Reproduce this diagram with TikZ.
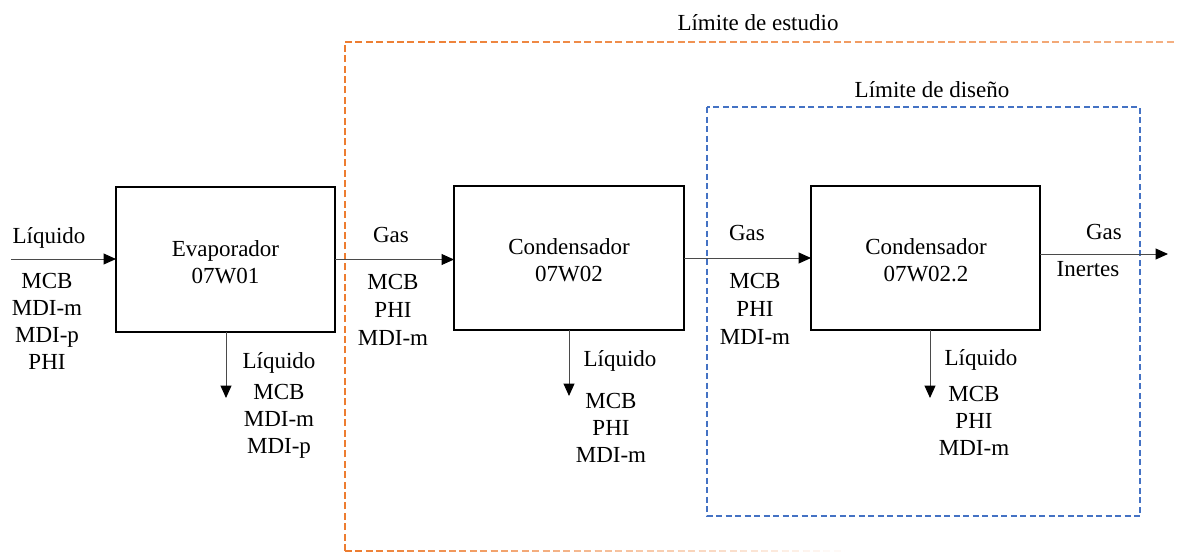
\documentclass[tikz,border=0pt]{standalone}
\usepackage{fontspec}
\setmainfont{Liberation Serif}
\usetikzlibrary{arrows.meta}
\definecolor{orng}{HTML}{ED7D31}
\definecolor{blu}{HTML}{4472C4}
\definecolor{conn}{HTML}{4A4A4A}
\begin{document}
\begin{tikzpicture}[x=1pt,y=-1pt,
  every node/.style={font=\fontsize{23}{27}\selectfont, inner sep=0pt, outer sep=0pt},
  txt/.style={anchor=north, align=center},
  unitbox/.style={draw=black, line width=1.6pt, minimum width=#1, minimum height=144pt},
  flow/.style={draw=conn, line width=1pt, -{Triangle[length=12.5pt,width=11pt,color=black]}},
  orngdash/.style={draw=orng, line width=2pt, dash pattern=on 7pt off 3.4pt},
  bludash/.style={draw=blu, line width=1.5pt, dash pattern=on 6pt off 3.5pt}]
\useasboundingbox (0,0) rectangle (1177,552);

% boundaries
\draw[orngdash] (345,551) -- (345,42);
\foreach \i in {0,...,39}{
  \pgfmathsetmacro\xa{345+\i*20.8}
  \pgfmathsetmacro\xb{345+(\i+1)*20.8}
  \pgfmathsetmacro\op{1-0.4*\i/40}
  \draw[orngdash, draw opacity=\op] (\xa,42) -- (\xb,42);
}
\foreach \i in {0,...,23}{
  \pgfmathsetmacro\xa{345+\i*20.8}
  \pgfmathsetmacro\xb{345+(\i+1)*20.8}
  \pgfmathsetmacro\op{1-\i/24}
  \draw[orngdash, draw opacity=\op] (\xa,551) -- (\xb,551);
}
\node[txt] (limE) at (758,14.5) {Límite de estudio};
\draw[bludash] (707,107) rectangle (1140,516);
\node[txt] (limD) at (932,81.5) {Límite de diseño};

% units
\node[unitbox=219pt, minimum height=145pt] (evap) at (225.5,259.5) {};
\node[unitbox=230pt] (cond1) at (569,258) {};
\node[unitbox=229pt] (cond2) at (925.5,258) {};
\node[txt] (evapT) at (225.5,241) {Evaporador\\07W01};
\node[txt] (cond1T) at (569,238.5) {Condensador\\07W02};
\node[txt] (cond2T) at (926,238.5) {Condensador\\07W02.2};

% inlet
\coordinate (inL) at (11,259);
\draw[flow] (inL) -- (inL -| evap.west);
\node[txt] (inLab) at (49,227.5) {Líquido};
\node[txt] (inStk) at (47,273.5) {MCB\\MDI-m\\MDI-p\\PHI};

% evap -> cond1
\draw[flow] (evap.east) -- (evap.east -| cond1.west);
\node[txt] (g1) at (391,227.5) {Gas};
\node[txt, font=\fontsize{23}{28}\selectfont] (g1Stk) at (393,274.5) {MCB\\PHI\\MDI-m};

% cond1 -> cond2
\draw[flow] (cond1.east) -- (cond1.east -| cond2.west);
\node[txt] (g2) at (747,225.5) {Gas};
\node[txt, font=\fontsize{23}{28}\selectfont] (g2Stk) at (755,273.5) {MCB\\PHI\\MDI-m};

% outlet
\coordinate (outR) at (1168,254);
\draw[flow] (outR -| cond2.east) -- (outR);
\node[txt] (gOut) at (1104,224.5) {Gas};
\node[txt] (inert) at (1088,261.5) {Inertes};

% liquid outlets
\coordinate (d1) at (226,398);
\draw[flow] (d1 |- evap.south) -- (d1);
\node[txt] (l1) at (279,352.5) {Líquido};
\node[txt] (l1Stk) at (279,384.5) {MCB\\MDI-m\\MDI-p};

\coordinate (d2) at (569,396);
\draw[flow] (d2 |- cond1.south) -- (d2);
\node[txt] (l2) at (620,350.5) {Líquido};
\node[txt] (l2Stk) at (611,393.5) {MCB\\PHI\\MDI-m};

\coordinate (d3) at (930,398);
\draw[flow] (d3 |- cond2.south) -- (d3);
\node[txt] (l3) at (981,349.5) {Líquido};
\node[txt] (l3Stk) at (974,386.5) {MCB\\PHI\\MDI-m};
\end{tikzpicture}
\end{document}
